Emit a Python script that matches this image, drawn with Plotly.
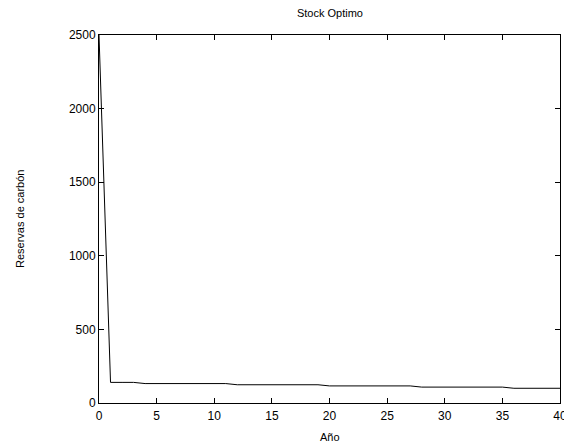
import plotly.graph_objects as go

years = list(range(0, 41))
stock = [2500, 140, 140, 140] + [132] * 8 + [124] * 8 + [116] * 8 + [108] * 8 + [100] * 5

x_ticks = [0, 5, 10, 15, 20, 25, 30, 35, 40]
y_ticks = [0, 500, 1000, 1500, 2000, 2500]

fig = go.Figure()
fig.add_trace(go.Scatter(x=years, y=stock, mode="lines",
                         line=dict(color="black", width=1), showlegend=False))

axis_common = dict(showgrid=False, zeroline=False, showline=True, linecolor="black",
                   linewidth=1, mirror="ticks", ticks="inside", ticklen=5,
                   tickcolor="black", tickwidth=1, ticklabeloverflow="allow",
                   tickfont=dict(family="Liberation Sans, Arial, sans-serif", size=12, color="black"))

fig.update_xaxes(range=[0, 40], tickvals=x_ticks, ticklabelstandoff=2, **axis_common)
fig.update_yaxes(range=[0, 2500], tickvals=y_ticks, **axis_common)

fig.update_layout(
    width=564, height=448,
    margin=dict(l=99, r=4, t=35, b=45, autoexpand=False),
    plot_bgcolor="white", paper_bgcolor="white",
    font=dict(family="Liberation Sans, Arial, sans-serif", size=11, color="black"),
    title=dict(text="Stock Optimo", x=0.585, xanchor="center", y=1 - 13 / 448,
               yanchor="middle", font=dict(size=11)),
    annotations=[
        dict(text="Año", xref="paper", yref="paper", x=0.5, y=-34 / 368,
             xanchor="center", yanchor="middle", showarrow=False, font=dict(size=11)),
        dict(text="Reservas de carbón", xref="paper", yref="paper", x=-79 / 461,
             y=(403 - 219) / 368, xanchor="center", yanchor="middle",
             textangle=-90, showarrow=False, font=dict(size=11)),
    ],
)

fig.write_html("out.html", config={"displayModeBar": False},
               post_script="document.body.style.margin='0';document.body.style.overflow='hidden';")
